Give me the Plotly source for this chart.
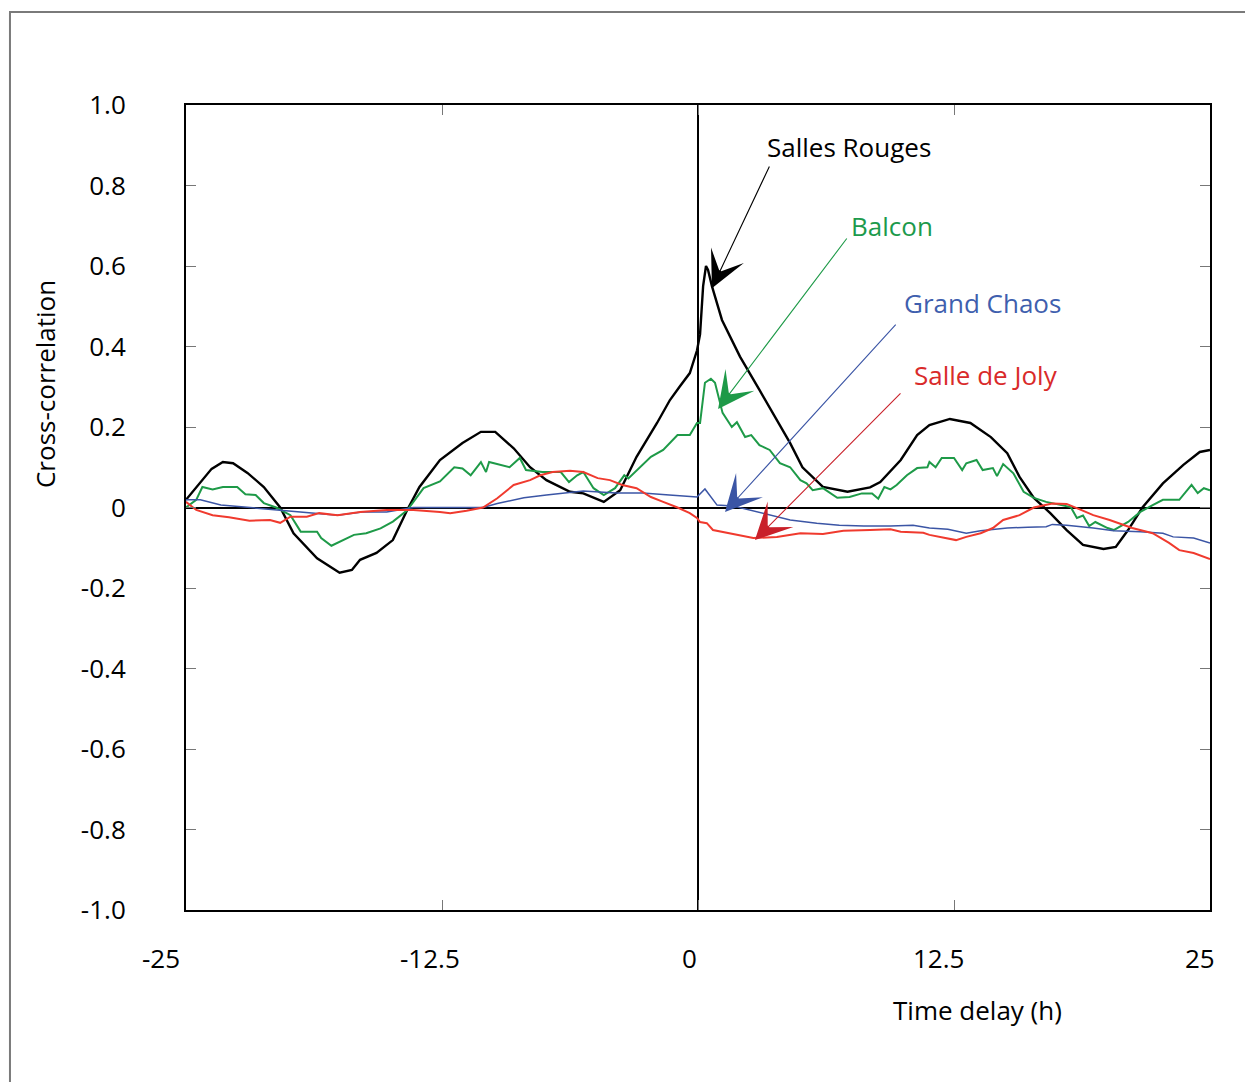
import plotly.graph_objects as go

# ---------------- data ----------------
t_salles_rouges = [-25, -24.3, -23.75, -23.2, -22.7, -22.0, -21.2, -20.4, -19.75, -18.6, -17.5, -16.9,
                   -16.5, -15.7, -14.9, -14.2, -13.6, -12.6, -11.5, -10.6, -9.9, -9.0, -8.2, -7.4, -6.25,
                   -5.6, -4.6, -3.8, -3.0, -2.0, -1.37, -0.9, -0.4, -0.05, 0.1, 0.25, 0.39, 0.49, 0.68,
                   1.17, 2.05, 3.0, 3.85, 4.5, 5.1, 6.1, 7.3, 8.4, 8.9, 9.4, 9.9, 10.7, 11.3, 12.3, 13.3,
                   14.3, 15.1, 15.7, 16.4, 17.2, 18.0, 18.8, 19.8, 20.4, 21.0, 21.7, 22.7, 23.7, 24.5, 25]
v_salles_rouges = [0.019, 0.061, 0.096, 0.113, 0.11, 0.086, 0.051, 0.0, -0.064, -0.126, -0.162, -0.155,
                   -0.13, -0.113, -0.081, -0.006, 0.051, 0.118, 0.16, 0.188, 0.188, 0.147, 0.1, 0.068, 0.039,
                   0.035, 0.014, 0.043, 0.126, 0.21, 0.267, 0.30, 0.334, 0.39, 0.43, 0.55, 0.60, 0.59, 0.55,
                   0.466, 0.375, 0.292, 0.217, 0.16, 0.1, 0.051, 0.039, 0.05, 0.063, 0.09, 0.118, 0.18, 0.205,
                   0.22, 0.21, 0.175, 0.135, 0.076, 0.024, -0.014, -0.056, -0.093, -0.103, -0.098, -0.056,
                   0.0, 0.06, 0.106, 0.138, 0.143]

t_balcon = [-25, -24.5, -24.2, -23.7, -23.2, -22.5, -22.1, -21.6, -21.2, -20.6, -19.9, -19.4, -18.6, -18.4,
            -17.9, -17.5, -16.8, -16.2, -15.5, -14.9, -14.2, -13.4, -12.6, -11.9, -11.5, -11.1, -10.6,
            -10.35, -10.2, -9.2, -8.7, -8.4, -7.6, -6.7, -6.3, -5.9, -5.6, -5.1, -4.6, -4.05, -3.6, -3.4,
            -2.3, -1.7, -1.0, -0.4, -0.05, 0.1, 0.34, 0.63, 0.83, 1.2, 1.65, 1.9, 2.3, 2.6, 3.0, 3.5, 4.0,
            4.5, 5.0, 5.3, 5.6, 6.1, 6.8, 7.4, 8.0, 8.5, 8.8, 9.1, 9.4, 9.7, 10.2, 10.7, 11.2, 11.3, 11.6,
            11.9, 12.5, 12.9, 13.1, 13.6, 13.9, 14.4, 14.6, 14.9, 15.4, 15.9, 16.4, 17.0, 18.2, 18.5, 18.8,
            19.1, 19.4, 20.0, 20.3, 21.0, 21.6, 22.2, 22.7, 23.5, 24.1, 24.4, 24.7, 25]
v_balcon = [0.0, 0.019, 0.051, 0.045, 0.051, 0.051, 0.033, 0.031, 0.011, 0.0, -0.019, -0.06, -0.06, -0.076,
            -0.095, -0.085, -0.068, -0.064, -0.052, -0.035, -0.007, 0.048, 0.065, 0.10, 0.097, 0.08, 0.113,
            0.088, 0.113, 0.10, 0.123, 0.093, 0.088, 0.088, 0.063, 0.08, 0.088, 0.048, 0.031, 0.048, 0.08,
            0.072, 0.126, 0.143, 0.18, 0.18, 0.21, 0.21, 0.31, 0.32, 0.31, 0.235, 0.2, 0.212, 0.175, 0.18,
            0.155, 0.143, 0.11, 0.10, 0.068, 0.06, 0.043, 0.048, 0.024, 0.026, 0.035, 0.035, 0.022, 0.051,
            0.045, 0.056, 0.08, 0.098, 0.10, 0.113, 0.10, 0.123, 0.123, 0.093, 0.11, 0.118, 0.093, 0.098,
            0.078, 0.108, 0.085, 0.039, 0.024, 0.014, 0.001, -0.026, -0.02, -0.046, -0.036, -0.051, -0.056,
            -0.036, -0.011, 0.006, 0.019, 0.019, 0.056, 0.036, 0.048, 0.043]

t_grand_chaos = [-25, -24.3, -23.3, -22.0, -20.7, -18.8, -17.6, -16.4, -15.2, -13.9, -12.6, -11.0, -10.5,
                 -9.8, -8.5, -7.4, -6.6, -5.6, -4.0, -2.7, -1.4, -0.05, 0.34, 0.93, 1.7, 2.5, 3.4, 4.5, 5.8,
                 6.9, 8.1, 9.4, 10.5, 11.3, 12.2, 13.1, 13.8, 15.1, 16.1, 17.0, 17.3, 18.0, 19.3, 20.3, 21.6,
                 22.7, 23.2, 24.2, 25]
v_grand_chaos = [0.019, 0.019, 0.006, 0.0, -0.006, -0.014, -0.019, -0.011, -0.011, 0.0, 0.0, 0.0, 0.0,
                 0.01, 0.024, 0.031, 0.036, 0.041, 0.036, 0.036, 0.031, 0.026, 0.046, 0.006, 0.004, -0.006,
                 -0.019, -0.031, -0.039, -0.044, -0.046, -0.046, -0.044, -0.051, -0.054, -0.064, -0.058,
                 -0.051, -0.049, -0.048, -0.042, -0.044, -0.051, -0.058, -0.06, -0.064, -0.073, -0.076, -0.088]

t_salle_de_joly = [-25, -24.5, -23.7, -22.9, -21.9, -20.9, -20.4, -19.9, -19.1, -18.5, -17.6, -16.5, -15.2,
                   -13.9, -12.6, -12.1, -11.3, -10.5, -9.8, -9.0, -8.2, -7.7, -7.1, -6.25, -5.6, -4.9, -4.3,
                   -3.7, -3.0, -2.3, -1.7, -1.0, -0.4, -0.05, 0.1, 0.43, 0.73, 1.56, 2.7, 3.85, 5.0, 6.1, 7.1,
                   8.4, 9.4, 9.9, 11.0, 11.3, 12.2, 12.6, 13.1, 13.8, 14.4, 14.9, 15.7, 16.4, 17.3, 18.0, 18.7,
                   19.3, 20.1, 21.2, 22.2, 23.0, 23.5, 24.2, 25]
v_salle_de_joly = [0.014, -0.006, -0.019, -0.024, -0.033, -0.031, -0.038, -0.023, -0.023, -0.014, -0.019,
                   -0.011, -0.006, -0.006, -0.011, -0.014, -0.008, 0.0, 0.023, 0.056, 0.068, 0.08, 0.088,
                   0.091, 0.088, 0.073, 0.068, 0.056, 0.048, 0.026, 0.014, 0.0, -0.014, -0.026, -0.036,
                   -0.039, -0.056, -0.064, -0.076, -0.073, -0.064, -0.066, -0.058, -0.056, -0.054, -0.06,
                   -0.063, -0.068, -0.076, -0.081, -0.073, -0.064, -0.051, -0.031, -0.019, 0.0, 0.01, 0.009,
                   -0.006, -0.019, -0.031, -0.051, -0.064, -0.088, -0.106, -0.113, -0.128]

x_tick_vals = [-25, -12.5, 0, 12.5, 25]
x_tick_text = ["-25", "-12.5", "0", "12.5", "25"]
y_tick_vals = [1.0, 0.8, 0.6, 0.4, 0.2, 0, -0.2, -0.4, -0.6, -0.8, -1.0]
y_tick_text = ["1.0", "0.8", "0.6", "0.4", "0.2", "0", "-0.2", "-0.4", "-0.6", "-0.8", "-1.0"]

series_names = ["Salles Rouges", "Balcon", "Grand Chaos", "Salle de Joly"]

# ---------------- styling ----------------
FONT = "Open Sans"
FS = 26
line_colors = ["#000000", "#1e9a48", "#3b55a5", "#f03a2e"]
text_colors = ["#000000", "#1c9a4c", "#3f5fae", "#d92a2a"]
head_colors = ["#000000", "#1e9a48", "#3b55a5", "#c9202a"]
line_widths = [2.4, 2.0, 1.5, 2.0]

fig = go.Figure()
data = [(t_salles_rouges, v_salles_rouges), (t_balcon, v_balcon),
        (t_grand_chaos, v_grand_chaos), (t_salle_de_joly, v_salle_de_joly)]
for (tx, vy), name, c, w in zip(data, series_names, line_colors, line_widths):
    fig.add_trace(go.Scatter(x=tx, y=vy, mode="lines", name=name,
                             line=dict(color=c, width=w), showlegend=False))

# label positions (data coords) and arrow tails / tips
label_pos = [(7.37, 0.896), (9.47, 0.699), (13.87, 0.508), (14.06, 0.329)]
arrow_tail = [(3.52, 0.851), (7.32, 0.672), (9.72, 0.458), (9.96, 0.287)]
arrow_tip = [(0.68, 0.545), (0.98, 0.245), (1.32, -0.011), (2.78, -0.081)]

annotations = []
for name, tc, hc, lp, at, ap in zip(series_names, text_colors, head_colors, label_pos, arrow_tail, arrow_tip):
    annotations.append(dict(x=lp[0], y=lp[1], xref="x", yref="y", text=name, showarrow=False,
                            xanchor="center", yanchor="middle",
                            font=dict(family=FONT, size=FS, color=tc)))
    annotations.append(dict(x=ap[0], y=ap[1], ax=at[0], ay=at[1], xref="x", yref="y",
                            axref="x", ayref="y", text="", showarrow=True,
                            arrowhead=3, arrowsize=5.5, arrowwidth=1.1, arrowcolor=hc))

x_label_shift = [-25, -12, -9, -16, -10]
for v, txt, sh in zip(x_tick_vals, x_tick_text, x_label_shift):
    annotations.append(dict(x=v, y=-0.0596, xref="x", yref="paper", text=txt, showarrow=False,
                            xshift=sh, xanchor="center", yanchor="middle",
                            font=dict(family=FONT, size=FS, color="#000000")))

annotations.append(dict(x=0.7725, y=-0.1242, xref="paper", yref="paper", text="Time delay (h)",
                        showarrow=False, xanchor="center", yanchor="middle",
                        font=dict(family=FONT, size=FS, color="#000000")))
annotations.append(dict(x=-0.1377, y=0.6534, xref="paper", yref="paper", text="Cross-correlation",
                        showarrow=False, textangle=-90, xanchor="center", yanchor="middle",
                        font=dict(family=FONT, size=FS, color="#000000")))

# page has an 8px body margin; margins compensate so the plot area lands at 186..1210 x 105..910
fig.update_layout(
    width=1253, height=1082,
    margin=dict(l=178, r=51, t=97, b=180, pad=0),
    paper_bgcolor="white", plot_bgcolor="white",
    font=dict(family=FONT, size=FS, color="#000000"),
    annotations=annotations,
    shapes=[dict(type="rect", xref="paper", yref="paper", x0=-0.1719, x1=1.08, y0=-0.25, y1=1.1155,
                 line=dict(color="#7a7a7a", width=2), layer="below")],
)
fig.update_xaxes(range=[-25, 25], tickvals=x_tick_vals, showticklabels=False,
                 ticks="inside", ticklen=10, tickwidth=1, tickcolor="#777777",
                 showline=True, linecolor="#000000", linewidth=2, mirror="ticks",
                 showgrid=False, zeroline=True, zerolinecolor="#000000", zerolinewidth=2)
fig.update_yaxes(range=[-1, 1], tickvals=y_tick_vals, ticktext=y_tick_text,
                 ticks="inside", ticklen=10, tickwidth=1, tickcolor="#777777",
                 ticklabelstandoff=53, tickfont=dict(family=FONT, size=FS, color="#000000"),
                 showline=True, linecolor="#000000", linewidth=2, mirror="ticks",
                 showgrid=False, zeroline=True, zerolinecolor="#000000", zerolinewidth=2)

fig.write_html("out.html")
